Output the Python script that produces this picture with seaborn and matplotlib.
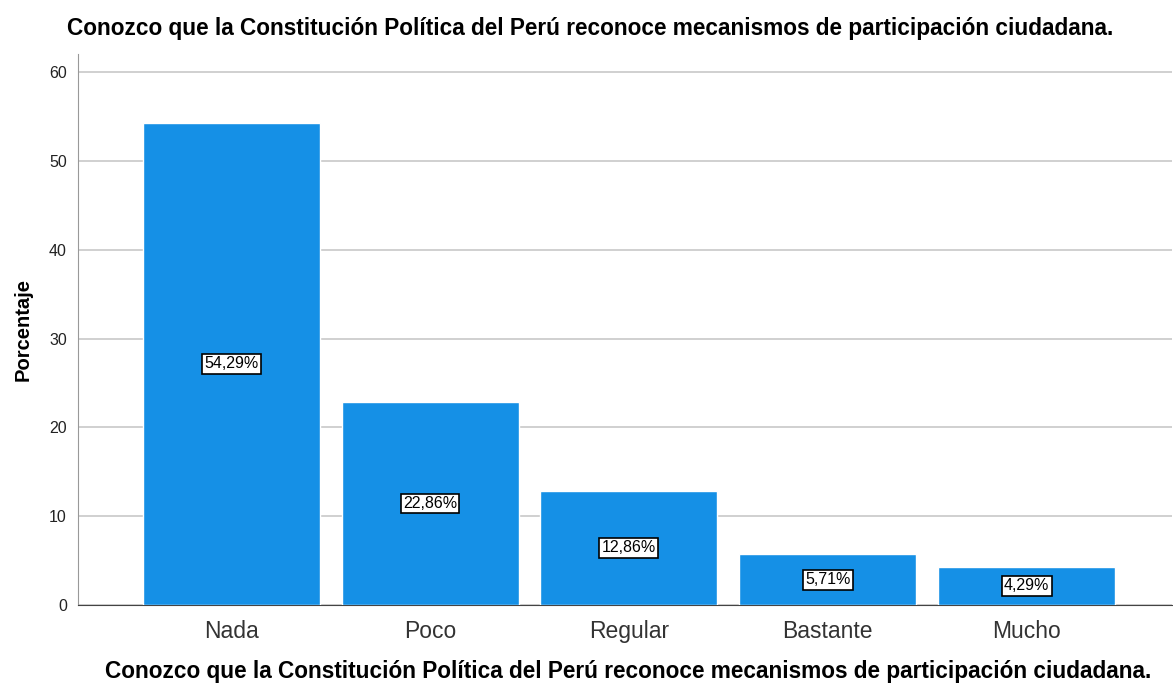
import seaborn as sns
import pandas as pd
import matplotlib.pyplot as plt

categorias = ["Nada", "Poco", "Regular", "Bastante", "Mucho"]
porcentajes = [54.29, 22.86, 12.86, 5.71, 4.29]
etiquetas = ["54,29%", "22,86%", "12,86%", "5,71%", "4,29%"]
titulo = "Conozco que la Constitución Política del Perú reconoce mecanismos de participación ciudadana."

sns.set_style("white")
plt.rcParams['font.family'] = ['Liberation Sans', 'DejaVu Sans']

df = pd.DataFrame({"cat": categorias, "pct": porcentajes})

fig = plt.figure(figsize=(11.73, 6.86), dpi=100)
ax = fig.add_axes([0.0665, 0.118, 0.9325, 0.803])

sns.barplot(data=df, x="cat", y="pct", color="#1590e6", saturation=1,
            width=0.89, ax=ax, zorder=3)

# etiquetas en el centro de cada barra
for i, (v, t) in enumerate(zip(porcentajes, etiquetas)):
    ax.text(i, v / 2, t, ha="center", va="center", fontsize=11.5, zorder=5,
            color="black",
            bbox=dict(boxstyle="square,pad=0.15", fc="white", ec="black", lw=1.2))

ax.set_xlim(-0.77, 4.73)
ax.set_ylim(0, 62)
ax.set_yticks([0, 10, 20, 30, 40, 50, 60])
ax.yaxis.grid(True, color="#c8c8c8", lw=1.2, zorder=0)
ax.set_axisbelow(True)
ax.tick_params(axis="x", labelsize=16.5, length=0, pad=11, colors="#333333")
ax.tick_params(axis="y", labelsize=11.5, length=0, pad=8, colors="#222222")

for s in ["top", "right"]:
    ax.spines[s].set_visible(False)
ax.spines["left"].set_color("#999999")
ax.spines["bottom"].set_color("#444444")

ax.set_xlabel(titulo, fontsize=16.3, fontweight="bold", labelpad=12, x=0.503, color="black")
ax.set_ylabel("Porcentaje", fontsize=14.5, fontweight="bold", labelpad=12, color="black")
fig.text(0.503, 0.958, titulo, ha="center", va="center", fontsize=16.3,
         fontweight="bold", color="black")

fig.savefig("out.png", dpi=100)
